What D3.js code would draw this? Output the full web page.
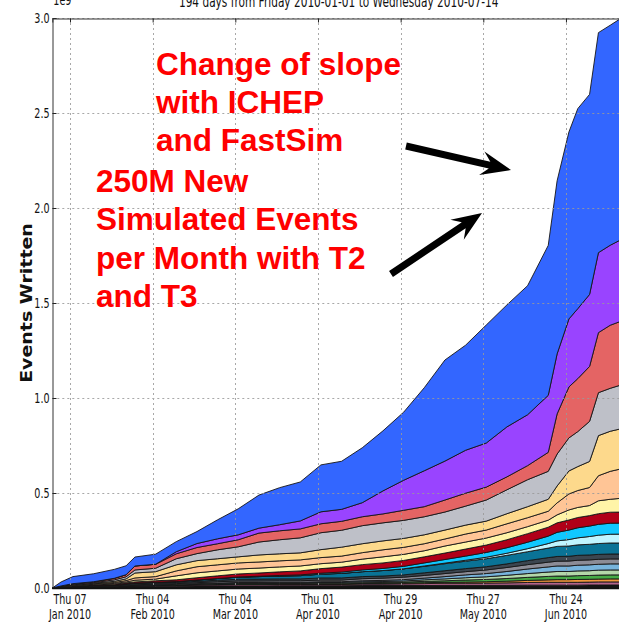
<!DOCTYPE html>
<html>
<head>
<meta charset="utf-8">
<script src="https://cdn.jsdelivr.net/npm/d3@7"></script>
<style>
  html, body { margin: 0; padding: 0; background: #fff; overflow: hidden; }
  svg { display: block; }
</style>
</head>
<body>
<svg id="chart" width="619" height="623"></svg>
<script>
// Cumulative events written per site, in millions of events.
const dates = ["2010-01-01","2010-01-04","2010-01-08","2010-01-15","2010-01-22","2010-01-26","2010-01-29",
  "2010-02-05","2010-02-12","2010-02-19","2010-02-26","2010-03-05","2010-03-12","2010-03-19","2010-03-26",
  "2010-04-02","2010-04-09","2010-04-16","2010-04-23","2010-04-30","2010-05-07","2010-05-14","2010-05-21",
  "2010-05-28","2010-06-04","2010-06-11","2010-06-18","2010-06-21","2010-06-25","2010-06-28","2010-07-02",
  "2010-07-05","2010-07-09","2010-07-14"];

const black       = [0,3,4,5,6,7,8,8,9,10,11,11,11,12,12,12,12,13,13,13,13,14,14,14,14,15,15,15,15,15,16,16,16,16];
const mauve       = [0,1,2,3,3,4,4,5,5,6,6,7,7,7,7,7,7,8,8,9,10,11,11,12,13,14,15,15,15,15,15,16,16,16];
const orange      = [0,0,0,0,0,0,0,0,0,1,1,2,2,2,2,2,2,3,3,4,5,5,6,7,9,11,13,14,14,15,15,15,16,16];
const green       = [0,0,0,0,0,0,1,1,2,2,3,3,3,3,3,4,4,4,5,5,7,8,11,12,14,16,18,19,19,20,20,21,21,21];
const lightGreen  = [0,0,0,0,0,1,1,1,2,2,3,3,3,3,3,4,4,5,5,6,8,10,12,14,17,20,23,24,24,25,25,26,26,26];
const lightBlue   = [0,0,0,0,0,0,0,1,1,2,2,3,3,3,3,4,4,5,6,7,9,12,15,17,20,24,27,29,29,30,31,31,32,32];
const midGrey     = [0,1,1,2,2,3,3,4,4,5,7,8,8,8,8,9,9,11,12,13,14,16,17,19,21,23,25,25,26,26,26,26,26,26];
const slate       = [0,1,2,4,4,5,6,6,6,7,8,9,10,10,10,11,11,11,11,12,14,15,16,17,19,21,24,25,25,26,26,26,26,26];
const teal        = [0,0,0,0,1,2,3,4,5,7,9,11,13,15,17,20,24,26,29,32,34,37,39,42,45,47,50,53,54,55,56,57,58,58];
const lightCyan   = [0,0,0,0,0,0,0,0,0,0,0,0,0,0,0,0,0,0,0,0,2,3,5,8,11,16,24,29,34,37,41,44,46,47];
const cyan        = [0,0,0,0,0,0,0,0,0,0,0,1,2,3,4,5,7,9,11,13,16,19,22,25,29,34,39,45,50,53,55,57,58,58];
const darkRed     = [0,0,2,3,4,5,6,8,9,12,14,16,17,19,21,24,26,28,29,31,32,34,37,39,42,45,47,50,53,54,55,56,58,58];
const lightYellow = [0,1,2,2,4,5,9,9,21,26,26,26,26,26,26,26,26,29,32,32,32,37,37,37,37,37,37,42,53,53,53,68,68,74];
const peach       = [0,1,2,3,5,7,12,13,26,32,32,32,32,32,32,32,32,34,37,37,37,37,42,42,47,47,47,63,84,89,95,132,147,158];
const lightOrange = [0,1,2,3,6,9,26,26,32,32,32,32,37,37,37,42,47,47,47,47,47,47,47,47,53,58,63,89,121,126,137,211,211,211];
const grey        = [0,1,3,3,8,11,16,18,32,37,47,53,68,74,79,89,89,95,95,95,95,95,100,111,126,142,147,168,174,184,211,226,226,232];
const salmon      = [0,1,3,5,8,11,21,21,26,32,32,37,47,47,47,47,47,47,47,53,53,63,68,68,68,74,100,211,268,279,289,316,332,337];
const purple      = [0,0,0,0,0,0,0,0,11,21,26,26,26,32,42,63,63,74,121,158,189,205,226,232,263,268,300,316,358,368,379,421,421,432];
const blue        = [0,21,37,42,47,47,47,53,53,63,100,137,174,195,205,247,253,289,316,358,437,532,553,621,642,679,789,911,984,1053,1053,1158,1158,1168];

const xTickDates = ["2010-01-07","2010-02-04","2010-03-04","2010-04-01","2010-04-29","2010-05-27","2010-06-24"];
const yTickValues = [0, 0.5e9, 1.0e9, 1.5e9, 2.0e9, 2.5e9, 3.0e9];
const titleText = "194 days from Friday 2010-01-01 to Wednesday 2010-07-14";
const yLabel = "Events Written";
const noteTop = ["Change of slope", "with ICHEP", "and FastSim"];
const noteBottom = ["250M New", "Simulated Events", "per Month with T2", "and T3"];

// Stack order, bottom to top.
const layers = [
  {key: "black", values: black},
  {key: "mauve", values: mauve},
  {key: "orange", values: orange},
  {key: "green", values: green},
  {key: "lightGreen", values: lightGreen},
  {key: "lightBlue", values: lightBlue},
  {key: "midGrey", values: midGrey},
  {key: "slate", values: slate},
  {key: "teal", values: teal},
  {key: "lightCyan", values: lightCyan},
  {key: "cyan", values: cyan},
  {key: "darkRed", values: darkRed},
  {key: "lightYellow", values: lightYellow},
  {key: "peach", values: peach},
  {key: "lightOrange", values: lightOrange},
  {key: "grey", values: grey},
  {key: "salmon", values: salmon},
  {key: "purple", values: purple},
  {key: "blue", values: blue}
];
const fills = {
  black: "#141414", mauve: "#b4648c", orange: "#f0963c", green: "#46aa46", lightGreen: "#b4d7aa",
  lightBlue: "#78b4dc", midGrey: "#8c8c96", slate: "#3c4650", teal: "#0a7396", lightCyan: "#c0f5ff",
  cyan: "#10c8ff", darkRed: "#b00018", lightYellow: "#fff4a8", peach: "#ffc596", lightOrange: "#fdd98c",
  grey: "#bec0c8", salmon: "#e46464", purple: "#9944ff", blue: "#3366ff"
};

const parseDay = d3.utcParse("%Y-%m-%d");
const rows = dates.map((d, i) => {
  const r = {date: parseDay(d)};
  layers.forEach(l => { r[l.key] = l.values[i] * 1e6; });
  return r;
});

const plot = {left: 52.3, right: 625, top: 18, bottom: 588};
const x = d3.scaleUtc()
  .domain([parseDay("2010-01-01"), parseDay("2010-07-14")])
  .range([plot.left, plot.right]);
const y = d3.scaleLinear().domain([0, 3e9]).range([plot.bottom, plot.top]);

const svg = d3.select("#chart");
const tickFont = "'DejaVu Sans', sans-serif";
const squeeze = 0.66;

// Stacked areas
const stacked = d3.stack().keys(layers.map(l => l.key))(rows);
const area = d3.area()
  .x(d => x(d.data.date))
  .y0(d => y(d[0]))
  .y1(d => y(d[1]));
svg.append("g")
  .selectAll("path")
  .data(stacked)
  .join("path")
  .attr("d", area)
  .attr("fill", d => fills[d.key])
  .attr("stroke", "#151515")
  .attr("stroke-width", 0.9)
  .attr("stroke-linejoin", "round");

// Dotted grid
const grid = svg.append("g").attr("stroke", "#9a9a9a").attr("stroke-width", 1)
  .attr("stroke-dasharray", "2,3").attr("opacity", 0.85);
grid.selectAll("line.v").data(xTickDates).join("line")
  .attr("x1", d => Math.round(x(parseDay(d))) + 0.5).attr("x2", d => Math.round(x(parseDay(d))) + 0.5)
  .attr("y1", plot.top).attr("y2", plot.bottom);
grid.selectAll("line.h").data(yTickValues.filter(v => v > 0)).join("line")
  .attr("y1", d => Math.round(y(d)) + 0.5).attr("y2", d => Math.round(y(d)) + 0.5)
  .attr("x1", plot.left).attr("x2", plot.right);

// Left axis with inward ticks
const yAxis = svg.append("g")
  .attr("transform", `translate(${Math.round(plot.left) + 0.5},0)`)
  .call(d3.axisLeft(y).tickValues(yTickValues).tickSize(-4).tickPadding(3)
    .tickFormat(v => (v / 1e9).toFixed(1)));
yAxis.select(".domain").attr("stroke", "#333");
yAxis.selectAll(".tick line").attr("stroke", "#222");
yAxis.selectAll(".tick text")
  .attr("font-family", tickFont).attr("font-size", 14.5).attr("fill", "#111")
  .attr("x", -3 / squeeze).attr("transform", `scale(${squeeze},1)`);

// Top spine with inward ticks
const topAxis = svg.append("g")
  .attr("transform", `translate(0,${plot.top + 0.5})`)
  .call(d3.axisTop(x).tickValues(xTickDates.map(parseDay)).tickSize(-4).tickFormat(""));
topAxis.select(".domain").attr("stroke", "#333");
topAxis.selectAll(".tick line").attr("stroke", "#222");

// Bottom spine
svg.append("line").attr("x1", plot.left).attr("x2", plot.right)
  .attr("y1", plot.bottom + 0.5).attr("y2", plot.bottom + 0.5)
  .attr("stroke", "#111").attr("stroke-width", 1.5);

// Two-line date labels
const fmtDay = d3.utcFormat("%a %d"), fmtMonth = d3.utcFormat("%b %Y");
const xLab = svg.append("g").selectAll("g").data(xTickDates).join("g")
  .attr("transform", d => `translate(${x(parseDay(d))},0) scale(${squeeze},1)`);
xLab.append("text").attr("y", 604.5).text(d => fmtDay(parseDay(d)));
xLab.append("text").attr("y", 619).text(d => fmtMonth(parseDay(d)));
xLab.selectAll("text").attr("text-anchor", "middle")
  .attr("font-family", tickFont).attr("font-size", 14.5).attr("fill", "#111");

// Axis title
svg.append("text")
  .attr("transform", "translate(32,303) scale(0.8,1) rotate(-90)")
  .attr("text-anchor", "middle").attr("font-family", tickFont)
  .attr("font-weight", "bold").attr("font-size", 19).attr("fill", "#111")
  .text(yLabel);

// Offset label and chart title, sitting against the top edge
svg.append("text").attr("transform", `translate(${plot.left + 1},5) scale(${squeeze},1)`)
  .attr("font-family", tickFont).attr("font-size", 14.5).attr("fill", "#111").text("1e9");
svg.append("text").attr("transform", `translate(${(plot.left + plot.right) / 2},7) scale(${squeeze},1)`)
  .attr("text-anchor", "middle").attr("font-family", tickFont).attr("font-size", 16)
  .attr("fill", "#111").text(titleText);

// Annotations
const noteFont = "'Liberation Sans', Arial, sans-serif";
const notes = svg.append("g").attr("font-family", noteFont).attr("font-weight", "bold")
  .attr("font-size", 31.5).attr("fill", "#ff0000");
noteTop.forEach((t, i) => notes.append("text").attr("x", 156).attr("y", 75 + i * 38).text(t));
noteBottom.forEach((t, i) => notes.append("text").attr("x", 96).attr("y", 192 + i * 38.3).text(t));

function arrowPoints(x1, y1, x2, y2) {
  const len = Math.hypot(x2 - x1, y2 - y1);
  const ux = (x2 - x1) / len, uy = (y2 - y1) / len, vx = -uy, vy = ux;
  const w = 3.5, headLen = 30, half = 12, notch = 8;
  const pts = [[0, -w], [len - headLen + notch, -w], [len - headLen, -half], [len, 0],
               [len - headLen, half], [len - headLen + notch, w], [0, w]];
  return pts.map(([a, b]) => [x1 + ux * a + vx * b, y1 + uy * a + vy * b].join(",")).join(" ");
}
svg.append("polygon").attr("points", arrowPoints(406, 146, 511, 170)).attr("fill", "#000");
svg.append("polygon").attr("points", arrowPoints(391, 274, 482, 213)).attr("fill", "#000");
</script>
</body>
</html>
